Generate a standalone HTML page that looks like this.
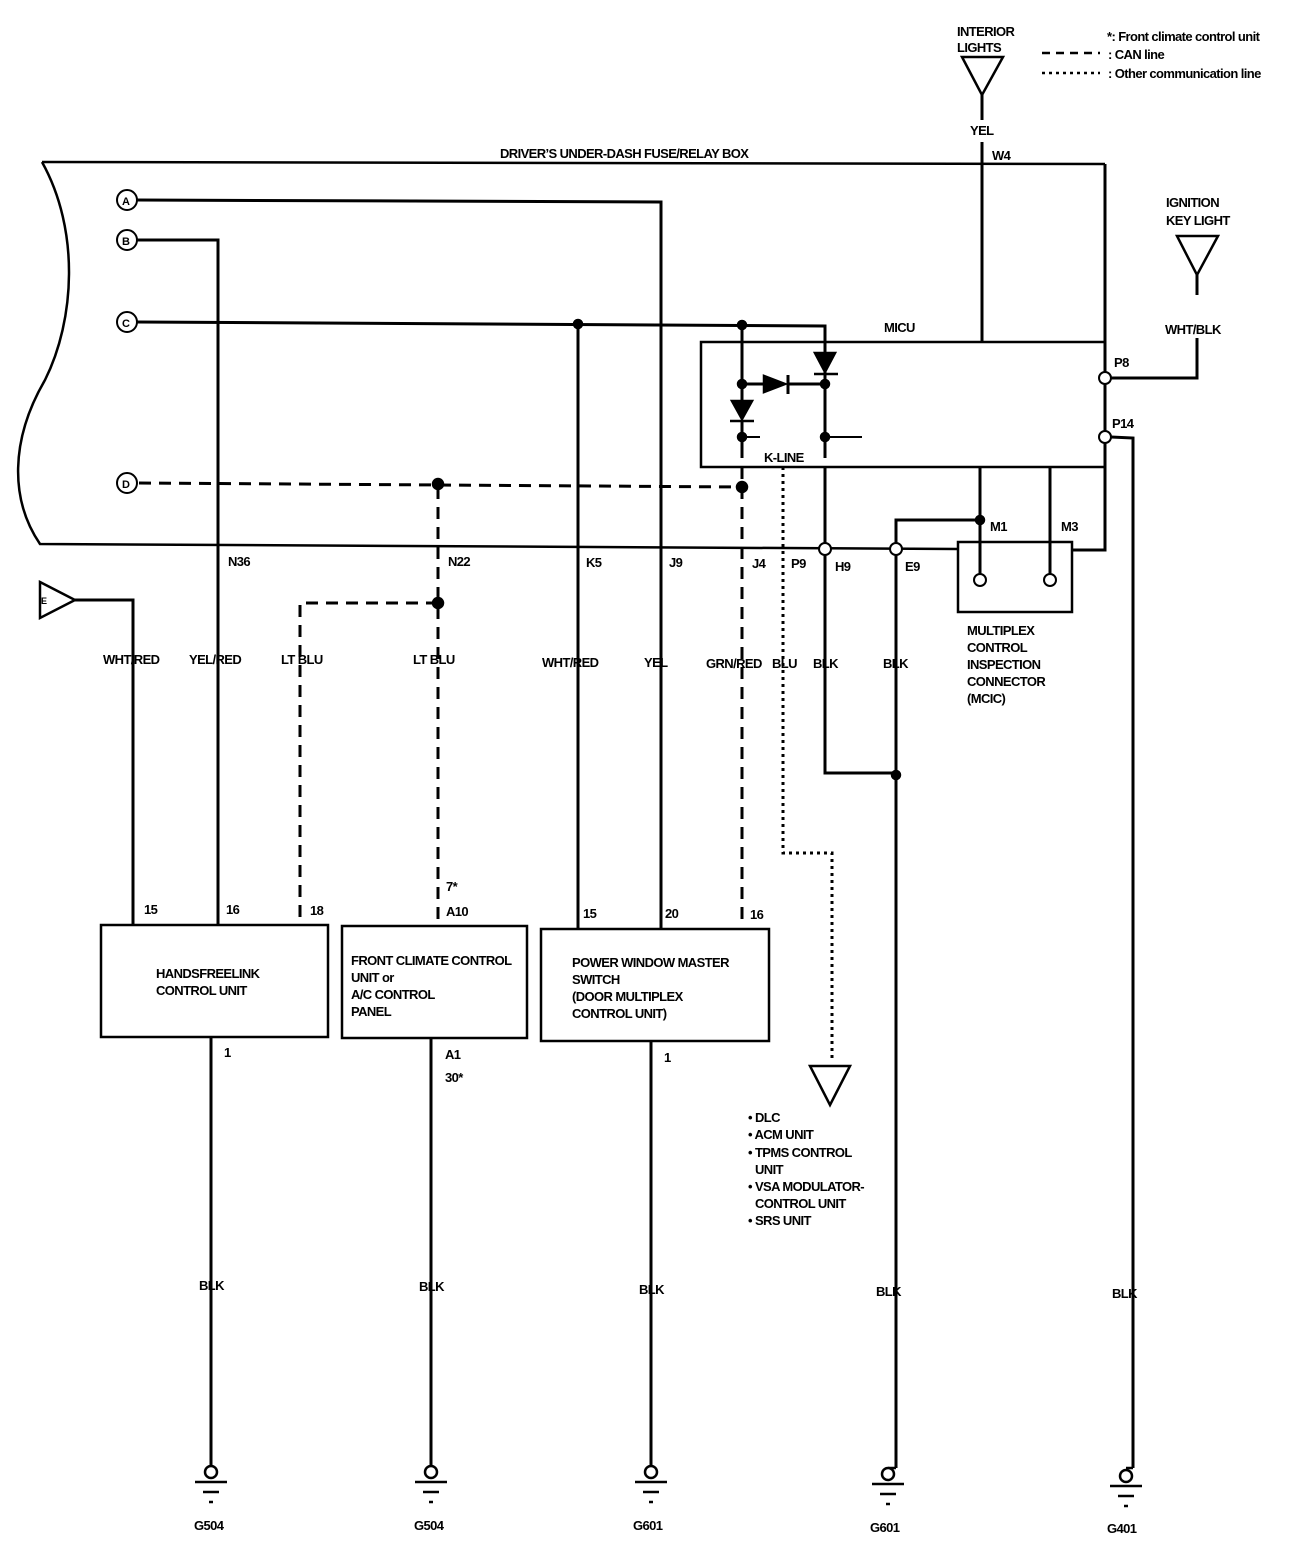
<!DOCTYPE html>
<html><head><meta charset="utf-8"><style>
html,body{margin:0;padding:0;background:#fff}
svg text{font-family:"Liberation Sans",sans-serif;font-weight:bold;font-size:13px;fill:#000;letter-spacing:-0.6px}
</style></head><body>
<svg width="1312" height="1560" viewBox="0 0 1312 1560" xmlns="http://www.w3.org/2000/svg">
<g fill="none" stroke="#000" stroke-width="3">
<!-- fuse box outline -->
<path d="M42,162 L1105,164" stroke-width="2.5"/>
<path d="M42,162 C80,230 75,320 45,380 C10,440 10,500 40,544 L958,549" stroke-width="2.5"/>
<!-- A -->
<path d="M137,200 L661,202 L661,930"/>
<!-- B -->
<path d="M137,240 L218,240 L218,925"/>
<!-- C -->
<path d="M137,322 L825,326 L825,352"/>
<path d="M578,324 L578,930"/>
<path d="M742,325 L742,400"/>
<path d="M742,420 L742,458"/>
<path d="M742,384 L770,384"/>
<path d="M788,375 L788,394"/>
<path d="M788,384 L825,384"/>
<path d="M825,372 L825,458"/>
<path d="M825,437 L862,437" stroke-width="2"/>
<path d="M742,437 L760,437" stroke-width="2"/>
<path d="M825,467 L825,773 L896,773"/>
<!-- MICU box -->
<rect x="701" y="342" width="404" height="125" stroke-width="2.5"/>
<!-- interior lights -->
<path d="M982,95 L982,120"/>
<path d="M982,142 L982,342"/>
<path d="M962,57 L1003,57 L982,95 Z" stroke-width="2.5"/>
<!-- right side -->
<path d="M1105,164 L1105,372"/>
<path d="M1105,384 L1105,431"/>
<path d="M1105,443 L1105,550 L1072,550"/>
<path d="M1111,378 L1197,378 L1197,338"/>
<path d="M1197,275 L1197,295"/>
<path d="M1177,236 L1218,236 L1197,275 Z" stroke-width="2.5"/>
<path d="M1111,437 L1133,438 L1133,1468"/>
<!-- MCIC -->
<rect x="958" y="542" width="114" height="70" stroke-width="2.5"/>
<path d="M980,467 L980,574"/>
<path d="M1050,467 L1050,574"/>
<path d="M896,543 L896,520 L980,520"/>
<path d="M896,555 L896,1468"/>
<path d="M825,555 L825,773"/>
<!-- E -->
<path d="M40,582 L75,600 L40,618 Z" stroke-width="2.5"/>
<path d="M75,600 L133,600 L133,925"/>
<!-- unit boxes -->
<rect x="101" y="925" width="227" height="112" stroke-width="2.5"/>
<rect x="342" y="926" width="185" height="112" stroke-width="2.5"/>
<rect x="541" y="929" width="228" height="112" stroke-width="2.5"/>
<!-- grounds -->
<path d="M211,1037 L211,1466"/>
<path d="M431,1038 L431,1466"/>
<path d="M651,1041 L651,1466"/>
<!-- dashed CAN -->
<g stroke-dasharray="12,8">
<path d="M139,483 L742,487"/>
<path d="M438,487 L438,925"/>
<path d="M438,603 L300,603 L300,925"/>
<path d="M742,467 L742,925"/>
</g>
<!-- dotted -->
<path d="M783,467 L783,853 L832,853 L832,1062" stroke-dasharray="3,4" stroke-width="3"/>
<path d="M810,1066 L850,1066 L830,1105 Z" stroke-width="2.5"/>
<!-- legend -->
<path d="M1042,53 L1100,53" stroke-dasharray="8,6" stroke-width="2.5"/>
<path d="M1042,73 L1100,73" stroke-dasharray="3,4" stroke-width="2.5"/>
</g>
<!-- diodes -->
<g fill="#000" stroke="#000" stroke-width="2.5">
<path d="M815,353 L835,353 L825,372 Z"/><path d="M814,374 L838,374"/>
<path d="M764,376 L764,392 L785,384 Z"/>
<path d="M732,401 L752,401 L742,419 Z"/><path d="M730,421 L754,421"/>
<circle cx="578" cy="324" r="4"/><circle cx="742" cy="325" r="4"/>
<circle cx="742" cy="384" r="4"/><circle cx="825" cy="384" r="4"/>
<circle cx="742" cy="437" r="4"/><circle cx="825" cy="437" r="4"/>
<circle cx="742" cy="487" r="5"/><circle cx="438" cy="484" r="5"/>
<circle cx="438" cy="603" r="5"/><circle cx="980" cy="520" r="4"/>
<circle cx="896" cy="775" r="4"/>
</g>
<!-- open circles -->
<g fill="#fff" stroke="#000" stroke-width="2">
<circle cx="127" cy="200" r="10"/><circle cx="127" cy="240" r="10"/>
<circle cx="127" cy="322" r="10"/><circle cx="127" cy="483" r="10"/>
<circle cx="1105" cy="378" r="6"/><circle cx="1105" cy="437" r="6"/>
<circle cx="825" cy="549" r="6"/><circle cx="896" cy="549" r="6"/>
<circle cx="980" cy="580" r="6"/><circle cx="1050" cy="580" r="6"/>
</g>
<g font-size="11">
<text x="122" y="205" style="font-size:11px">A</text><text x="122" y="245" style="font-size:11px">B</text>
<text x="122" y="327" style="font-size:11px">C</text><text x="122" y="488" style="font-size:11px">D</text>
<text x="41" y="604" style="font-size:9px">E</text>
</g>
<!-- ground symbols -->
<g stroke="#000" stroke-width="2.5" fill="#fff">
<g transform="translate(211,0)"><circle cx="0" cy="1472" r="6"/><path d="M-16,1482 H16 M-8,1492 H8 M-2,1502 H2"/></g>
<g transform="translate(431,0)"><circle cx="0" cy="1472" r="6"/><path d="M-16,1482 H16 M-8,1492 H8 M-2,1502 H2"/></g>
<g transform="translate(651,0)"><circle cx="0" cy="1472" r="6"/><path d="M-16,1482 H16 M-8,1492 H8 M-2,1502 H2"/></g>
<g transform="translate(888,0)"><path d="M8,1468 L0,1468"/><circle cx="0" cy="1474" r="6"/><path d="M-16,1484 H16 M-8,1494 H8 M-2,1504 H2"/></g>
<g transform="translate(1126,0)"><path d="M7,1468 L0,1468"/><circle cx="0" cy="1476" r="6"/><path d="M-16,1486 H16 M-8,1496 H8 M-2,1506 H2"/></g>
</g>
<!-- labels -->
<text x="957" y="36">INTERIOR</text><text x="957" y="52">LIGHTS</text>
<text x="970" y="135">YEL</text><text x="992" y="160">W4</text>
<text x="1107" y="41">*: Front climate control unit</text>
<text x="1108" y="59">: CAN line</text>
<text x="1108" y="78">: Other communication line</text>
<text x="500" y="158">DRIVER’S UNDER-DASH FUSE/RELAY BOX</text>
<text x="1166" y="207">IGNITION</text><text x="1166" y="225">KEY LIGHT</text>
<text x="1165" y="334">WHT/BLK</text>
<text x="884" y="332">MICU</text>
<text x="1114" y="367">P8</text><text x="1112" y="428">P14</text>
<text x="764" y="462">K-LINE</text>
<text x="990" y="531">M1</text><text x="1061" y="531">M3</text>
<text x="228" y="566">N36</text><text x="448" y="566">N22</text><text x="586" y="567">K5</text>
<text x="669" y="567">J9</text><text x="752" y="568">J4</text><text x="791" y="568">P9</text>
<text x="835" y="571">H9</text><text x="905" y="571">E9</text>
<text x="967" y="635">MULTIPLEX</text><text x="967" y="652">CONTROL</text><text x="967" y="669">INSPECTION</text>
<text x="967" y="686">CONNECTOR</text><text x="967" y="703">(MCIC)</text>
<text x="103" y="664">WHT/RED</text><text x="189" y="664">YEL/RED</text><text x="281" y="664">LT BLU</text>
<text x="413" y="664">LT BLU</text><text x="542" y="667">WHT/RED</text><text x="644" y="667">YEL</text>
<text x="706" y="668">GRN/RED</text><text x="772" y="668">BLU</text><text x="813" y="668">BLK</text>
<text x="883" y="668">BLK</text>
<text x="144" y="914">15</text><text x="226" y="914">16</text><text x="310" y="915">18</text>
<text x="446" y="891">7*</text><text x="446" y="916">A10</text>
<text x="583" y="918">15</text><text x="665" y="918">20</text><text x="750" y="919">16</text>
<text x="156" y="978">HANDSFREELINK</text><text x="156" y="995">CONTROL UNIT</text>
<text x="351" y="965">FRONT CLIMATE CONTROL</text><text x="351" y="982">UNIT or</text>
<text x="351" y="999">A/C CONTROL</text><text x="351" y="1016">PANEL</text>
<text x="572" y="967">POWER WINDOW MASTER</text><text x="572" y="984">SWITCH</text>
<text x="572" y="1001">(DOOR MULTIPLEX</text><text x="572" y="1018">CONTROL UNIT)</text>
<text x="224" y="1057">1</text><text x="445" y="1059">A1</text><text x="445" y="1082">30*</text>
<text x="664" y="1062">1</text>
<text x="748" y="1122">• DLC</text><text x="748" y="1139">• ACM UNIT</text>
<text x="748" y="1157">• TPMS CONTROL</text><text x="755" y="1174">UNIT</text>
<text x="748" y="1191">• VSA MODULATOR-</text><text x="755" y="1208">CONTROL UNIT</text>
<text x="748" y="1225">• SRS UNIT</text>
<text x="199" y="1290">BLK</text><text x="419" y="1291">BLK</text><text x="639" y="1294">BLK</text>
<text x="876" y="1296">BLK</text><text x="1112" y="1298">BLK</text>
<text x="194" y="1530">G504</text><text x="414" y="1530">G504</text><text x="633" y="1530">G601</text>
<text x="870" y="1532">G601</text><text x="1107" y="1533">G401</text>
</svg>
</body></html>
